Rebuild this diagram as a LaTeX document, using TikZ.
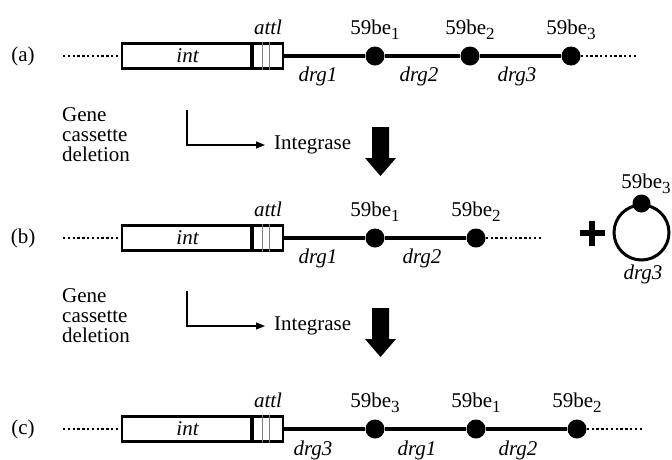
\documentclass[tikz,border=0pt]{standalone}
\usepackage{fontspec}
\setmainfont{Liberation Serif}
\newfontfamily\timesfont{Liberation Serif}
\usetikzlibrary{arrows.meta}
\newcommand\lowsub[1]{\raisebox{-5.5pt}{\fontsize{17}{17}\selectfont #1}}
\begin{document}
\begin{tikzpicture}[x=1pt,y=-1pt,
  font=\timesfont\fontsize{21}{20}\selectfont,
  dotnode/.style={circle,fill=black,inner sep=0,minimum size=19pt},
  mainline/.style={line width=3.2pt},
  dotline/.style={line width=2.4pt,dash pattern=on 2.4pt off 2.4pt},
  intbox/.style={draw,line width=2.2pt,minimum width=131pt,minimum height=25pt,inner sep=0,fill=white},
  attbox/.style={draw,line width=2.2pt,minimum width=30pt,minimum height=25pt,inner sep=0},
  lbl/.style={inner sep=0,anchor=base},
  drglbl/.style={inner sep=0,anchor=base,font=\timesfont\fontsize{21}{20}\selectfont\itshape},
  smallarrow/.style={line width=1.1pt,-{Triangle[length=9pt,width=7pt]}},
  bigarrow/.style={fill=black,draw=none}
]
\useasboundingbox (0,0) rectangle (672,459);

% common heads of the three rows
\foreach \r/\y/\lab in {a/56/(a), b/238/(b), c/429/(c)}{
  \node[inner sep=0] (lab\r) at (23,\y) {\lab};
  \coordinate (start\r) at (63,\y);
  \node[intbox] (int\r) at (187.5,\y) {\itshape int};
  \node[attbox] (att\r) at (268,\y) {};
  \draw[dotline] (start\r) -- (int\r.west);
  \draw[line width=3.4pt] (att\r.north west) -- (att\r.south west);
  \draw[gray,line width=1.1pt] ([xshift=11pt]att\r.north west) -- ([xshift=11pt]att\r.south west);
  \draw[gray,line width=1.1pt] ([xshift=18pt]att\r.north west) -- ([xshift=18pt]att\r.south west);
  \node[lbl,font=\timesfont\fontsize{21}{20}\selectfont\itshape] (attl\r) at (268,\y-22) {attl};
}

% row (a)
\node[dotnode] (a1) at (375,56) {};
\node[dotnode] (a2) at (470,56) {};
\node[dotnode] (a3) at (571,56) {};
\coordinate (aend) at (638,56);
\draw[mainline] (atta.east) -- (a1) -- (a2) -- (a3);
\draw[dotline] (a3.east) -- (aend);
\node[lbl] (la1) at (375,34) {59be\lowsub{1}};
\node[lbl] (la2) at (470,34) {59be\lowsub{2}};
\node[lbl] (la3) at (571,34) {59be\lowsub{3}};
\node[drglbl] (da1) at (318,81) {drg1};
\node[drglbl] (da2) at (419,81) {drg2};
\node[drglbl] (da3) at (517,81) {drg3};

% first transition
\node[inner sep=0,anchor=west,align=left] (gcd1) at (62,135) {Gene\\cassette\\deletion};
\coordinate (k1top) at (187,110);
\coordinate (k1corner) at (187,145);
\node[inner sep=0,anchor=west] (ig1) at (274,145) {Integrase};
\draw[smallarrow,shorten >=9pt] (k1top) -- (k1corner) -- (ig1.west);
\fill[bigarrow] (372,127) -- (389,127) -- (389,158) -- (396,158) -- (380.5,176) -- (365,158) -- (372,158) -- cycle;

% row (b)
\node[dotnode] (b1) at (375,238) {};
\node[dotnode] (b2) at (476,238) {};
\coordinate (bend) at (543,238);
\draw[mainline] (attb.east) -- (b1) -- (b2);
\draw[dotline] (b2.east) -- (bend);
\node[lbl] (lb1) at (375,216) {59be\lowsub{1}};
\node[lbl] (lb2) at (476,216) {59be\lowsub{2}};
\node[drglbl] (db1) at (318,263) {drg1};
\node[drglbl] (db2) at (422,263) {drg2};
% plus and ring
\draw[line width=5.5pt] (579.5,233) -- (604.5,233);
\draw[line width=5.5pt] (592,220.5) -- (592,245.5);
\node[circle,draw,line width=3pt,minimum size=55pt,inner sep=0] (ring) at (641.5,232.5) {};
\node[dotnode,minimum size=18pt] (b3) at (ring.north) {};
\node[lbl] (lb3) at (646,188) {59be\lowsub{3}};
\node[drglbl] (db3) at (643,279) {drg3};

% second transition
\node[inner sep=0,anchor=west,align=left] (gcd2) at (62,316) {Gene\\cassette\\deletion};
\coordinate (k2top) at (187,291);
\coordinate (k2corner) at (187,326);
\node[inner sep=0,anchor=west] (ig2) at (274,326) {Integrase};
\draw[smallarrow,shorten >=9pt] (k2top) -- (k2corner) -- (ig2.west);
\fill[bigarrow] (372,308) -- (389,308) -- (389,339) -- (396,339) -- (380.5,357) -- (365,339) -- (372,339) -- cycle;

% row (c)
\node[dotnode] (c1) at (375,429) {};
\node[dotnode] (c2) at (476,429) {};
\node[dotnode] (c3) at (577,429) {};
\coordinate (cend) at (643,429);
\draw[mainline] (attc.east) -- (c1) -- (c2) -- (c3);
\draw[dotline] (c3.east) -- (cend);
\node[lbl] (lc1) at (375,407) {59be\lowsub{3}};
\node[lbl] (lc2) at (476,407) {59be\lowsub{1}};
\node[lbl] (lc3) at (577,407) {59be\lowsub{2}};
\node[drglbl] (dc1) at (313,455) {drg3};
\node[drglbl] (dc2) at (417,455) {drg1};
\node[drglbl] (dc3) at (518,455) {drg2};
\end{tikzpicture}
\end{document}
